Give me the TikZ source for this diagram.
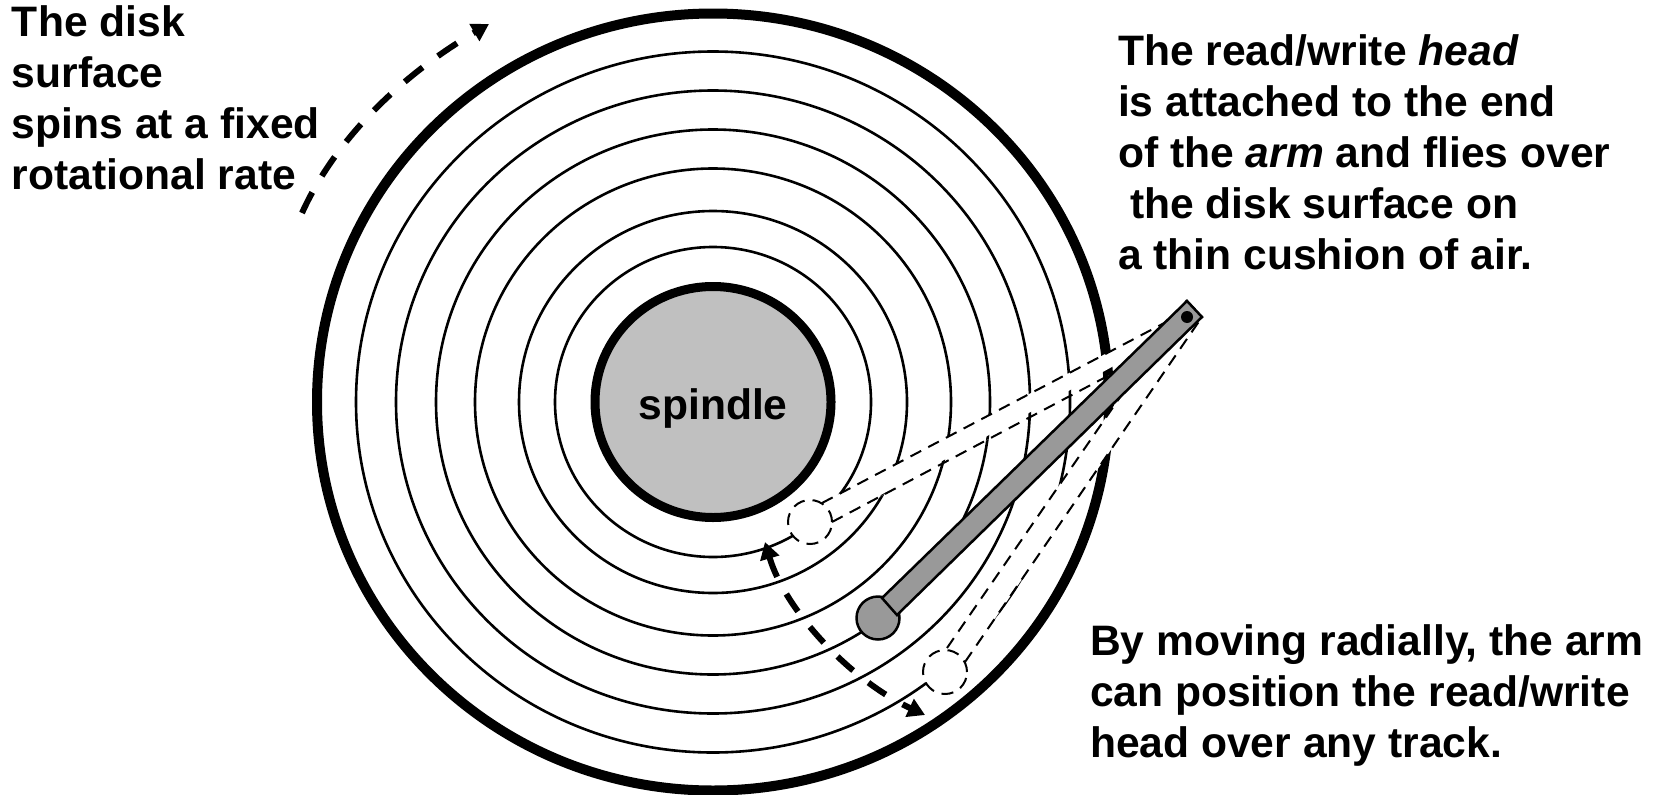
\documentclass[tikz,border=0pt]{standalone}
\usepackage{fontspec}
\setmainfont{Liberation Sans}
\usetikzlibrary{arrows.meta,shapes.geometric}
\definecolor{spin}{HTML}{C0C0C0}
\definecolor{armg}{HTML}{999999}
\tikzset{
  x=1pt,y=-1pt,
  track/.style={draw=black,line width=2.6pt,ellipse,inner sep=0pt,outer sep=0pt},
  platter/.style={draw=black,line width=10pt,fill=white,ellipse,inner sep=0pt,outer sep=0pt},
  ghost/.style={draw=black,line width=2pt,dash pattern=on 12pt off 8pt,fill=white},
  moveline/.style={draw=black,line width=6pt,dash pattern=on 23pt off 19pt,-{Triangle[length=17pt,width=19pt]}},
  armpart/.style={draw=black,line width=2.5pt,fill=armg},
  label/.style={inner sep=0pt,outer sep=0pt,anchor=north west,align=left,font=\fontsize{42.6}{51}\selectfont\bfseries},
}
\begin{document}
\begin{tikzpicture}
\useasboundingbox (0,0) rectangle (1657,795);
\coordinate (c) at (713,402);
% platter and tracks
\node[platter,minimum width=792pt,minimum height=777pt] (disk) at (c) {};
\foreach \rx/\ry/\n in {357/350.5/a,317/311.5/b,277/272.5/c,238/233.5/d,194/191/e,158/155/f}{
  \node[track,minimum width=2*\rx pt,minimum height=2*\ry pt] (t\n) at (c) {};
}
\node[draw=black,line width=9pt,fill=spin,ellipse,inner sep=0pt,outer sep=0pt,minimum width=236pt,minimum height=231pt] (spindle) at (c) {};
\node[font=\fontsize{42.6}{46}\selectfont\bfseries,anchor=base,inner sep=0pt] (spintext) at (713,419) {spindle};
% ghost arm positions
\coordinate (tip1) at (1170,320);
\coordinate (tip2) at (1202,317);
\coordinate (u1) at (822,503);
\coordinate (u2) at (832,522);
\coordinate (l1) at (947,648);
\coordinate (l2) at (965,662);
\coordinate (tip3) at (1187,300);
\path[fill=white] (u1) -- (tip1) -- (tip2) -- (u2) -- cycle;
\draw[ghost] (u1) -- (tip1) (u2) -- (1187,334);
\node[ghost,circle,minimum size=44pt,inner sep=0pt] (headA) at (810,522) {};
\path[fill=white] (l1) -- (tip3) -- (tip2) -- (l2) -- cycle;
\draw[ghost] (l1) -- (tip3) (l2) -- (tip2);
\node[ghost,circle,minimum size=44pt,inner sep=0pt] (headB) at (945,672) {};
% arm
\draw[ghost,fill=none] (1187,301) -- (tip2);
\node[armpart,circle,minimum size=43pt,inner sep=0pt] (ball) at (878,618) {};
\draw[armpart] (882,598) -- (1187,301) -- (1202,317) -- (897,615) -- cycle;
\node[circle,fill=black,minimum size=12pt,inner sep=0pt] (pin) at (1187,317) {};
% motion arrows
\coordinate (s1) at (302,213);
\coordinate (e1) at (489,24);
\draw[moveline] (s1) .. controls (335,140) and (400,76) .. (e1);
\coordinate (e2) at (765,542);
\coordinate (s3) at (925,715);
\draw[moveline,{Triangle[length=17pt,width=19pt]}-{Triangle[length=17pt,width=19pt]},dash pattern=on 21pt off 19.5pt] (e2) .. controls (785,610) and (850,680) .. (s3);
% labels
\node[label] (lspin) at (12,6) {The disk\\surface\\spins at a fixed\\rotational rate};
\node[label] (lhead) at (1118,35) {The read/write \textit{head}\\is attached to the end\\of the \textit{arm} and flies over\\\hspace*{12pt}the disk surface on\\a thin cushion of air.};
\node[label] (lmove) at (1090,625) {By moving radially, the arm\\can position the read/write\\head over any track.};
\end{tikzpicture}
\end{document}
